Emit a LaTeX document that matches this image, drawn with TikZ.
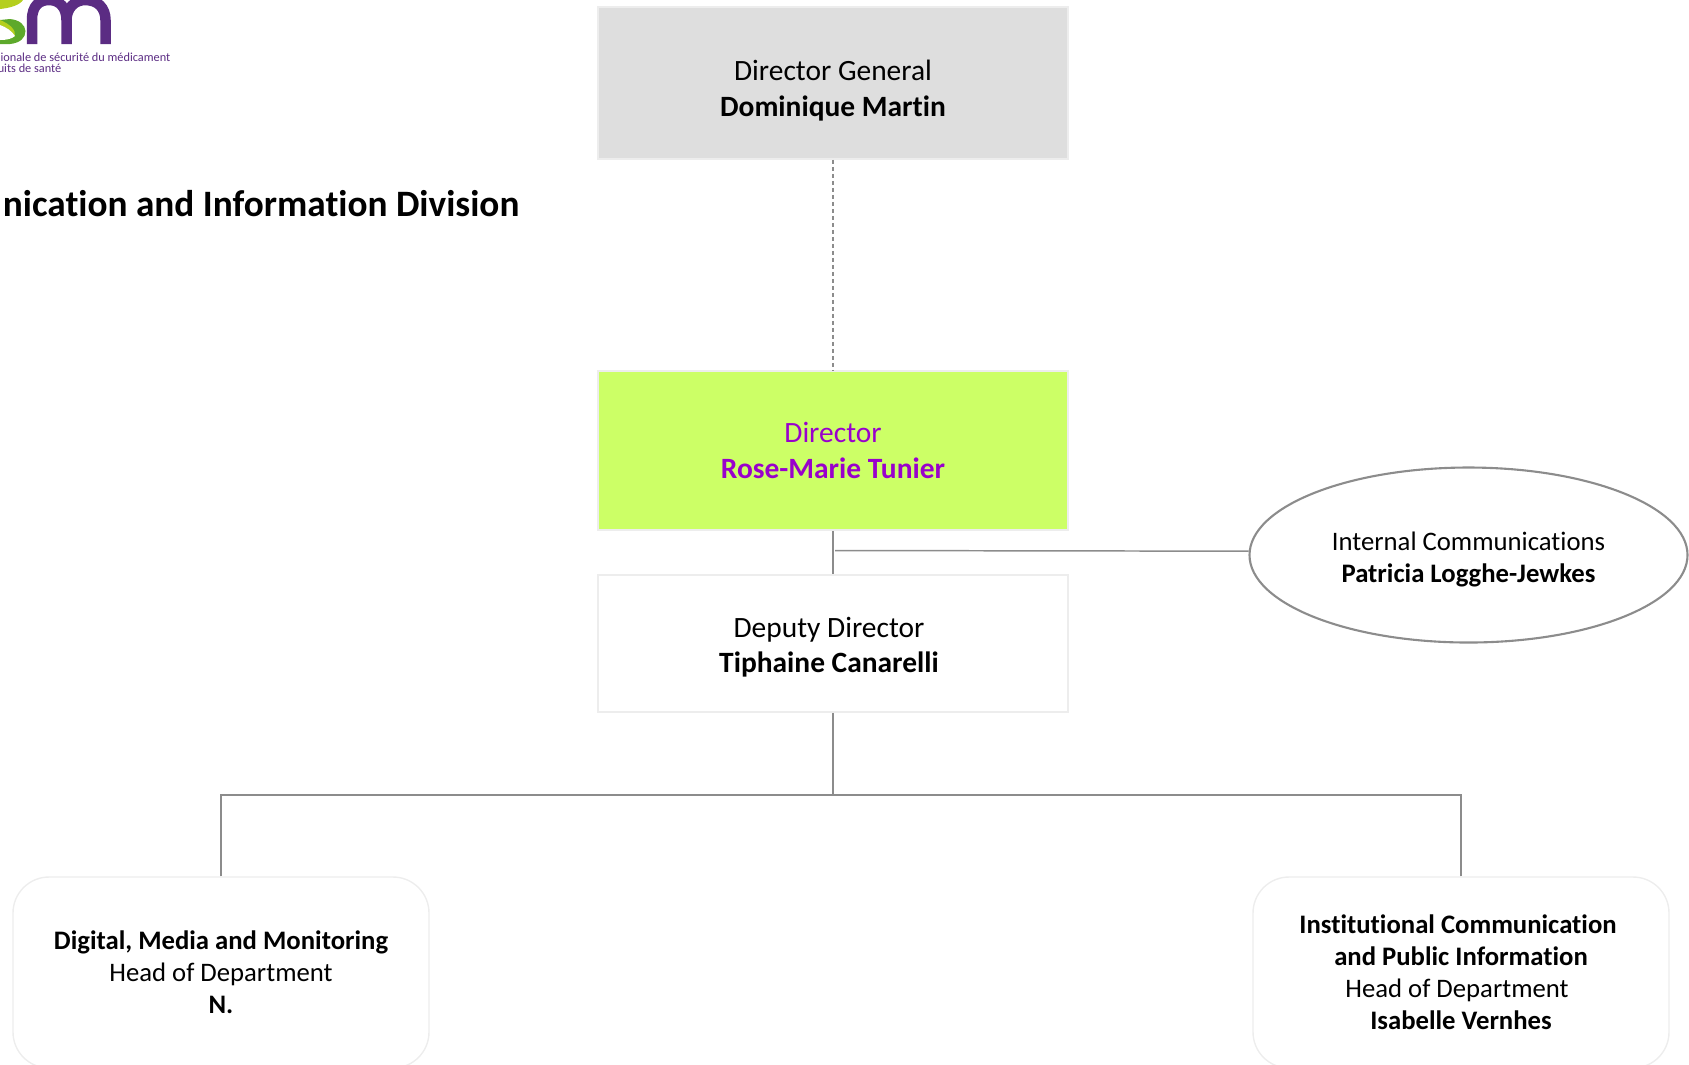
\documentclass[tikz,border=0pt]{standalone}
\usepackage{fontspec}
\setmainfont[Ligatures=NoCommon]{Carlito}
\usepackage{xcolor}
\usetikzlibrary{shapes, positioning}

\definecolor{boxline}{HTML}{EDEDED}
\definecolor{linkgray}{HTML}{8C8C8C}
\definecolor{limefill}{HTML}{CCFF66}
\definecolor{dirpurple}{HTML}{9900CC}
\definecolor{logopurple}{HTML}{5B2C83}
\definecolor{logogreen}{HTML}{5DA92B}
\definecolor{logolime}{HTML}{B5CF1E}

\tikzset{
  orgbox/.style={rectangle, draw=boxline, line width=0.45pt, minimum width=4.70cm, align=center, font=\fontsize{8.38}{10.1}\selectfont, inner sep=0pt},
  deptbox/.style={rectangle, rounded corners=0.36cm, draw=boxline, line width=0.4pt, minimum width=4.16cm, minimum height=1.91cm, align=center, font=\fontsize{7.6}{9.1}\selectfont, inner sep=0pt},
  link/.style={draw=linkgray, line width=0.42pt}
}

\begin{document}
\begin{tikzpicture}
  \useasboundingbox (0,0) rectangle (16.89,-10.64);

  % logo
  \draw[logopurple, line width=0.105cm] (0.32,-0.44) -- (0.32,-0.2) .. controls (0.32,-0.05) and (0.4,0) .. (0.49,0) .. controls (0.6,0) and (0.665,-0.08) .. (0.665,-0.2) -- (0.665,-0.44);
  \draw[logopurple, line width=0.105cm] (0.665,-0.2) .. controls (0.665,-0.08) and (0.75,0) .. (0.85,0) .. controls (0.98,0) and (1.055,-0.08) .. (1.055,-0.2) -- (1.055,-0.44);
  \fill[logolime] (0,0) -- (0.23,0) .. controls (0.2,-0.05) and (0.1,-0.08) .. (0,-0.09) -- cycle;
  \fill[logogreen] (0,-0.44) -- (0.1,-0.44) .. controls (0.2,-0.43) and (0.255,-0.38) .. (0.255,-0.31) .. controls (0.25,-0.25) and (0.2,-0.2) .. (0.1,-0.19) -- (0,-0.2) -- cycle;
  \fill[logolime] (0,-0.2) .. controls (0.1,-0.24) and (0.16,-0.3) .. (0.15,-0.36) .. controls (0.12,-0.31) and (0.06,-0.27) .. (0,-0.25) -- cycle;
  \fill[white] (0,-0.25) .. controls (0.06,-0.27) and (0.12,-0.31) .. (0.15,-0.36) .. controls (0.12,-0.39) and (0.06,-0.4) .. (0,-0.4) -- cycle;
  \node[anchor=east, inner sep=0pt, text=logopurple, font=\fontsize{3.5}{4}\selectfont] (logoa) at (1.71,-0.575) {ionale de sécurité du médicament};
  \node[anchor=east, inner sep=0pt, text=logopurple, font=\fontsize{3.5}{4}\selectfont] (logob) at (0.62,-0.685) {uits de santé};

  \node[anchor=east, inner sep=0pt, font=\fontsize{10.6}{12}\selectfont\bfseries] (title) at (5.20,-2.04) {nication and Information Division};

  \node[orgbox, fill=black!13, minimum height=1.52cm] (dg) at (8.33,-0.83) {\rule{0pt}{0.36cm}Director General\\\textbf{Dominique Martin}};
  \node[orgbox, fill=limefill, minimum height=1.59cm, text=dirpurple] (dir) at (8.33,-4.505) {Director\\\textbf{Rose-Marie Tunier}};
  \node[orgbox, fill=white, minimum height=1.37cm] (dep) at (8.33,-6.435) {\rule{0pt}{0.28cm}Deputy Director\hspace*{0.08cm}\\\textbf{Tiphaine Canarelli}\hspace*{0.08cm}};
  \node[ellipse, draw=linkgray, line width=0.6pt, minimum width=4.38cm, minimum height=1.75cm, align=center, inner sep=0pt, font=\fontsize{7.6}{9.1}\selectfont] (intcomm) at (14.685,-5.55) {\rule{0pt}{0.28cm}Internal Communications\\\textbf{Patricia Logghe-Jewkes}};
  \node[deptbox] (digital) at (2.21,-9.725) {\textbf{Digital, Media and Monitoring}\\Head of Department\\\textbf{N.}};
  \node[deptbox] (inst) at (14.61,-9.725) {\textbf{Institutional Communication}\hspace*{0.06cm}\\\textbf{and Public Information}\\\mbox{Head of Department}\kern0.08cm\\\textbf{Isabelle Vernhes}};

  \coordinate (sidelink) at (8.35,-5.505);
  \coordinate (bus) at (8.33,-7.95);

  \draw[link, dash pattern=on 0.04cm off 0.03cm] (dg) -- (dir);
  \draw[link] (dir) -- (dep);
  \draw[link] (sidelink) -- (intcomm.179);
  \draw[link] (dep) -- (bus);
  \draw[link] (digital.north) |- (bus);
  \draw[link] (inst.north) |- (bus);
\end{tikzpicture}
\end{document}
